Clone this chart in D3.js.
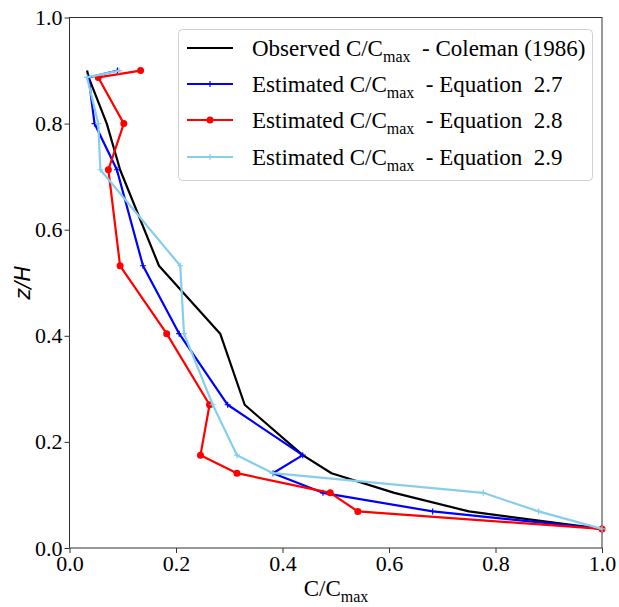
<!DOCTYPE html>
<html>
<head>
<meta charset="utf-8">
<script src="https://cdn.jsdelivr.net/npm/d3@7"></script>
<style>
  body { margin: 0; background: #fff; }
  .tick text { font-family: "Liberation Serif", serif; font-size: 22px; fill: #000; }
  .leg { font-family: "Liberation Serif", serif; font-size: 23px; fill: #000; }
</style>
</head>
<body>
<svg id="chart" width="619" height="607"></svg>
<script>
// relative depth z/H, shared by all profiles
var zH = [0.9, 0.887, 0.8, 0.713, 0.532, 0.404, 0.27, 0.175, 0.141, 0.104, 0.069, 0.036];
// C/Cmax profiles
var observed = [0.033, 0.036, 0.070, 0.095, 0.168, 0.283, 0.329, 0.438, 0.492, 0.61, 0.75, 1.0];
var eq27 = [0.09, 0.036, 0.047, 0.089, 0.138, 0.206, 0.297, 0.438, 0.382, 0.476, 0.682, 1.0];
var eq28 = [0.1335, 0.054, 0.102, 0.073, 0.095, 0.1825, 0.263, 0.246, 0.3145, 0.4896, 0.5415, 1.0];
var eq29 = [0.093, 0.033, 0.054, 0.058, 0.208, 0.215, 0.269, 0.3145, 0.382, 0.777, 0.881, 1.0];
var ticks = [0, 0.2, 0.4, 0.6, 0.8, 1.0];

var seriesNames = ['Observed', 'Estimated', 'Estimated', 'Estimated'];
var seriesTails = [' - Coleman (1986)', ' - Equation  2.7', ' - Equation  2.8', ' - Equation  2.9'];

var plotLeft = 69.5, plotRight = 602, plotTop = 17.5, plotBottom = 548;
var svg = d3.select('#chart');
var x = d3.scaleLinear().domain([0, 1]).range([plotLeft, plotRight]);
var y = d3.scaleLinear().domain([0, 1]).range([plotBottom, plotTop]);

var series = [
  {vals: observed, color: '#000000', marker: 'none'},
  {vals: eq27, color: '#0000ff', marker: 'plus'},
  {vals: eq28, color: '#ff0000', marker: 'dot'},
  {vals: eq29, color: '#87ceeb', marker: 'plus'}
];

// axes
var xAxis = d3.axisBottom(x).tickValues(ticks).tickFormat(d3.format('.1f')).tickSize(5).tickPadding(2);
var yAxis = d3.axisLeft(y).tickValues(ticks).tickFormat(d3.format('.1f')).tickSize(5).tickPadding(2);
var gx = svg.append('g').attr('transform', 'translate(0,' + plotBottom + ')').call(xAxis);
var gy = svg.append('g').attr('transform', 'translate(' + plotLeft + ',0)').call(yAxis);
gx.select('.domain').remove();
gy.select('.domain').remove();
svg.selectAll('.tick line').attr('stroke', '#333');

svg.append('rect')
  .attr('x', plotLeft).attr('y', plotTop)
  .attr('width', plotRight - plotLeft).attr('height', plotBottom - plotTop)
  .attr('fill', 'none').attr('stroke', '#333').attr('stroke-width', 1);

var line = d3.line()
  .x(function(d) { return x(d[0]); })
  .y(function(d) { return y(d[1]); });

function drawMarker(g, kind, px, py, color) {
  if (kind === 'dot') {
    g.append('circle').attr('cx', px).attr('cy', py).attr('r', 3.5).attr('fill', color);
  } else if (kind === 'plus') {
    g.append('path')
      .attr('d', 'M' + (px - 3) + ',' + py + 'H' + (px + 3) + 'M' + px + ',' + (py - 3) + 'V' + (py + 3))
      .attr('stroke', color).attr('stroke-width', 1.2);
  }
}

series.forEach(function(s) {
  var pts = s.vals.map(function(v, i) { return [v, zH[i]]; });
  var g = svg.append('g');
  g.append('path')
    .attr('d', line(pts))
    .attr('fill', 'none')
    .attr('stroke', s.color)
    .attr('stroke-width', 2.2)
    .attr('stroke-linejoin', 'round');
  pts.forEach(function(p) { drawMarker(g, s.marker, x(p[0]), y(p[1]), s.color); });
});

// legend
var lg = svg.append('g');
lg.append('rect')
  .attr('x', 178.5).attr('y', 29.5).attr('width', 414).attr('height', 151)
  .attr('rx', 4).attr('ry', 4)
  .attr('fill', 'rgba(255,255,255,0.85)').attr('stroke', '#d0d0d0');
var rowY = [48, 84, 120, 157];
series.forEach(function(s, i) {
  var ry = rowY[i];
  lg.append('line')
    .attr('x1', 187).attr('x2', 233).attr('y1', ry).attr('y2', ry)
    .attr('stroke', s.color).attr('stroke-width', 2.2);
  drawMarker(lg, s.marker, 210, ry, s.color);
  var t = lg.append('text').attr('class', 'leg').attr('x', 252).attr('y', ry + 8);
  t.append('tspan').text(seriesNames[i] + ' C/C');
  t.append('tspan').attr('font-size', '16px').attr('dy', 6).text('max');
  t.append('tspan').attr('dy', -6).text('\u00a0' + seriesTails[i].replace(/  /g, '\u00a0\u00a0'));
});

// axis labels
var xl = svg.append('text').attr('class', 'leg')
  .attr('x', 336).attr('y', 596).attr('text-anchor', 'middle');
xl.append('tspan').text('C/C');
xl.append('tspan').attr('font-size', '16px').attr('dy', 6).text('max');

svg.append('text')
  .attr('transform', 'translate(30,' + ((plotTop + plotBottom) / 2) + ') rotate(-90)')
  .attr('text-anchor', 'middle')
  .attr('font-family', '"DejaVu Sans", sans-serif')
  .attr('font-style', 'italic')
  .attr('font-size', '21px')
  .text('z/H');
</script>
</body>
</html>
